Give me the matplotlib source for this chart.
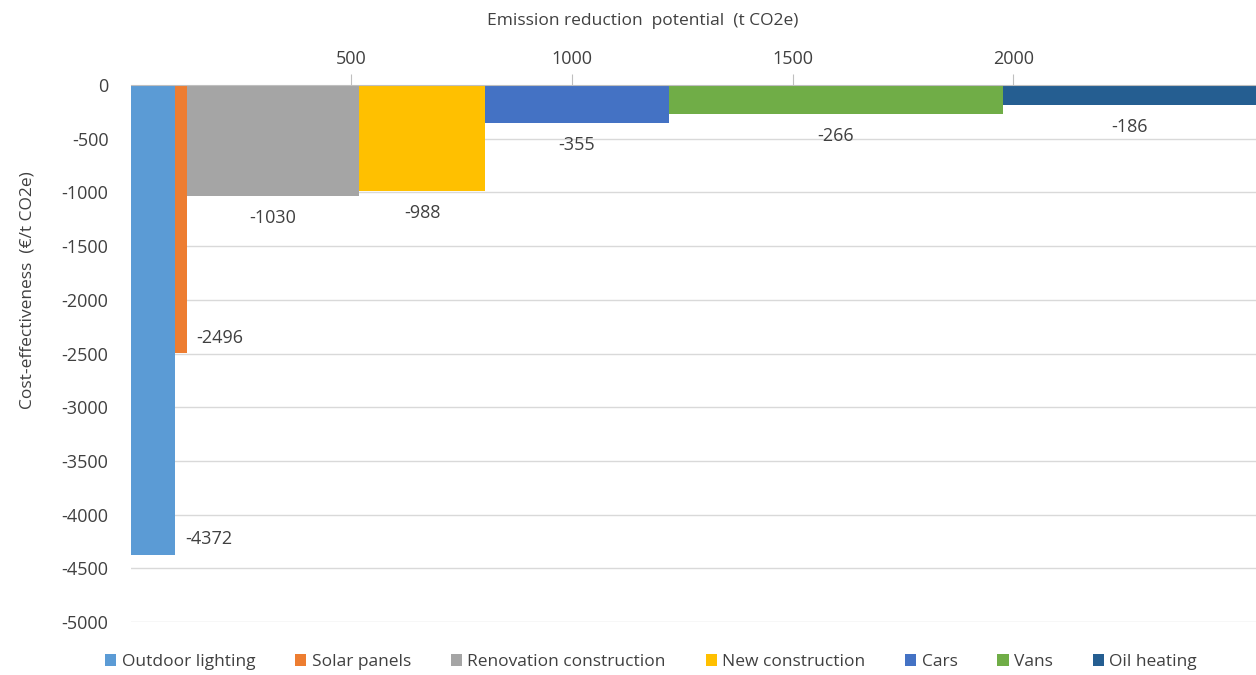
import numpy as np
import matplotlib
matplotlib.use('Agg')
import matplotlib.pyplot as plt
from matplotlib.patches import Patch

# ─── DATA ───────────────────────────────────────────────────────────────
measures = ['Outdoor lighting', 'Solar panels', 'Renovation construction',
            'New construction', 'Cars', 'Vans', 'Oil heating']
cost = [-4372, -2496, -1030, -988, -355, -266, -186]          # EUR / t CO2e
potential = [101, 26, 390, 287, 415, 757, 575]                 # t CO2e
colors = ['#5B9BD5', '#ED7D31', '#A5A5A5', '#FFC000', '#4472C4', '#70AD47', '#255E91']

x_ticks = [500, 1000, 1500, 2000]
y_ticks = np.arange(-5000, 1, 500)

plt.rcParams['font.family'] = ['Open Sans', 'DejaVu Sans']
plt.rcParams['axes.unicode_minus'] = False
TXT = '#404040'

fig = plt.figure(figsize=(12.56, 6.75), dpi=100)
ax = fig.add_axes([0.104, 0.0785, 0.896, 0.7955])

left = np.concatenate([[0], np.cumsum(potential)[:-1]])
ax.bar(left, cost, width=potential, align='edge', color=colors, zorder=2, linewidth=0)

# value labels
for i, (l, w, c) in enumerate(zip(left, potential, cost)):
    if i < 2:
        ax.annotate(f'{c}', xy=(l + w, c), xytext=(7, 11), textcoords='offset points',
                    ha='left', va='center', fontsize=13, color=TXT)
    else:
        ax.annotate(f'{c}', xy=(l + w / 2, c), xytext=(0, -16), textcoords='offset points',
                    ha='center', va='center', fontsize=13, color=TXT)

ax.set_xlim(0, 2550)
ax.set_ylim(-5000, 0)
ax.xaxis.tick_top()
ax.set_xticks(x_ticks)
ax.set_yticks(y_ticks)
ax.tick_params(axis='x', length=8, color='#BFBFBF', labelsize=13, labelcolor=TXT, pad=4)
ax.tick_params(axis='y', length=0, labelsize=13, labelcolor=TXT, pad=16)
ax.grid(axis='y', color='#D9D9D9', linewidth=1, zorder=0)
for s in ['left', 'right', 'bottom']:
    ax.spines[s].set_visible(False)
ax.spines['top'].set_color('#BFBFBF')
ax.spines['top'].set_zorder(3)

fig.text(643 / 1256, 1 - 21 / 675, 'Emission reduction  potential  (t CO2e)',
         ha='center', va='center', fontsize=12.5, color=TXT)
fig.text(28 / 1256, 1 - 290 / 675, 'Cost-effectiveness  (€/t CO2e)',
         ha='center', va='center', rotation=90, fontsize=12.5, color=TXT)

handles = [Patch(facecolor=c, label=m) for m, c in zip(measures, colors)]
fig.legend(handles=handles, loc='center', bbox_to_anchor=(651 / 1256, 1 - 662 / 675),
           ncol=7, frameon=False, fontsize=12.5, handlelength=0.65, handleheight=0.65,
           handletextpad=0.3, columnspacing=2.3, labelcolor=TXT)

plt.savefig('out.png', dpi=100)
